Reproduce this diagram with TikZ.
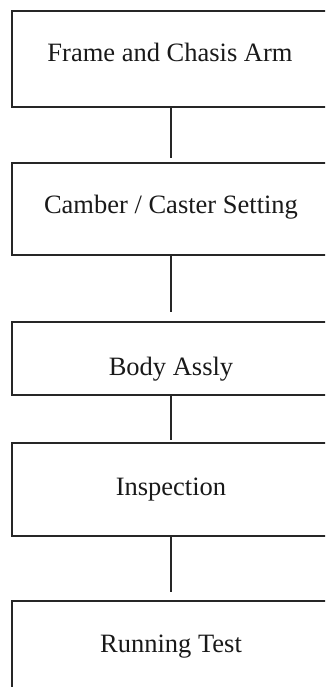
\documentclass[tikz,border=0pt]{standalone}
\usepackage{fontspec}
\setmainfont{Liberation Serif}
\begin{document}
\begin{tikzpicture}[x=1pt,y=-1pt,
  stagebox/.style={draw=black!85,line width=1.3pt,rectangle,minimum width=318pt,inner sep=0pt,outer sep=0pt},
  stagetext/.style={anchor=base,inner sep=0pt,text=black!90,font=\fontsize{26.5}{30}\selectfont},
  link/.style={draw=black!85,line width=1.3pt}]
\useasboundingbox (0,0) rectangle (325,687);
\clip (0,0) rectangle (325,687);
\node[stagebox,minimum height=96pt] (b1) at (171,59) {};
\node[stagebox,minimum height=92pt] (b2) at (171,209) {};
\node[stagebox,minimum height=73pt] (b3) at (171,358.5) {};
\node[stagebox,minimum height=93pt] (b4) at (171,489.5) {};
\node[stagebox,minimum height=94pt] (b5) at (171,648) {};
\node[stagetext] (t1) at (170,62) {Frame and Chasis Arm};
\node[stagetext] (t2) at (171,213) {Camber / Caster Setting};
\node[stagetext] (t3) at (171,375) {Body Assly};
\node[stagetext] (t4) at (171,495) {Inspection};
\node[stagetext] (t5) at (171,652) {Running Test};
\draw[link] (b1.south) -- ([yshift=5pt]b2.north);
\draw[link] (b2.south) -- ([yshift=10pt]b3.north);
\draw[link] (b3.south) -- ([yshift=3pt]b4.north);
\draw[link] (b4.south) -- ([yshift=9pt]b5.north);
\end{tikzpicture}
\end{document}
